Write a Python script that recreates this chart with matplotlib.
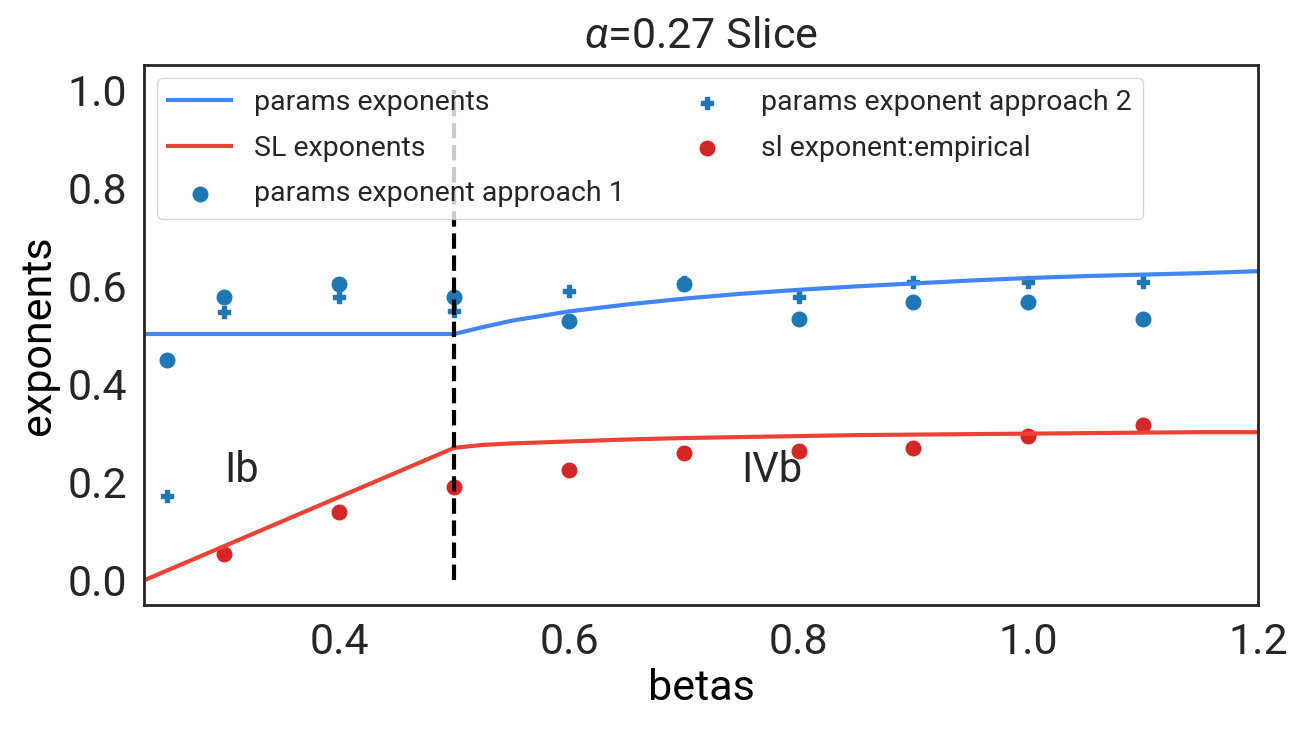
import numpy as np
import matplotlib
matplotlib.use('Agg')
import matplotlib.pyplot as plt

plt.rcParams['font.family'] = ['Roboto', 'DejaVu Sans']
plt.rcParams['mathtext.fontset'] = 'custom'
plt.rcParams['mathtext.it'] = 'Roboto:italic'
plt.rcParams['mathtext.rm'] = 'Roboto'
plt.rcParams['text.color'] = '#262626'

# theory curves
beta_line = [0.2, 0.25, 0.3, 0.35, 0.4, 0.45, 0.5, 0.525, 0.55, 0.6, 0.65, 0.7,
             0.75, 0.8, 0.85, 0.9, 0.95, 1.0, 1.05, 1.1, 1.15, 1.2]
params_line = [0.502, 0.502, 0.502, 0.502, 0.502, 0.502, 0.502, 0.516, 0.529,
               0.548, 0.562, 0.574, 0.584, 0.592, 0.599, 0.605, 0.611, 0.616,
               0.620, 0.623, 0.626, 0.630]
sl_line = [-0.03, 0.02, 0.07, 0.12, 0.17, 0.22, 0.27, 0.276, 0.279, 0.283,
           0.287, 0.290, 0.292, 0.294, 0.296, 0.297, 0.298, 0.299, 0.300,
           0.301, 0.302, 0.302]

# empirical points
betas = [0.25, 0.3, 0.4, 0.5, 0.6, 0.7, 0.8, 0.9, 1.0, 1.1]
approach1 = [0.448, 0.578, 0.604, 0.578, 0.529, 0.604, 0.532, 0.568, 0.568, 0.532]
approach2 = [0.171, 0.547, 0.578, 0.549, 0.590, 0.607, 0.578, 0.608, 0.608, 0.608]
betas_sl = [0.3, 0.4, 0.5, 0.6, 0.7, 0.8, 0.9, 1.0, 1.1]
sl_emp = [0.053, 0.140, 0.190, 0.224, 0.260, 0.264, 0.270, 0.295, 0.317]

fig = plt.figure(figsize=(13, 7.35), dpi=100)
ax = fig.add_axes([0.1108, 0.177, 0.8569, 0.7345])

ax.plot(beta_line, params_line, color='#4285f4', lw=3, label='params exponents')
ax.plot(beta_line, sl_line, color='#ea4335', lw=3, label='SL exponents')
ax.scatter(betas, approach1, color='#1f77b4', s=110, label='params exponent approach 1')
ax.scatter(betas, approach2, color='#1f77b4', marker='P', s=70,
           label='params exponent approach 2')
ax.scatter(betas_sl, sl_emp, color='#d62728', s=110, label='sl exponent:empirical')
ax.vlines(0.5, 0, 1, colors='k', linestyles='--', lw=3)

ax.text(0.3, 0.2, 'Ib', fontsize=30)
ax.text(0.75, 0.2, 'IVb', fontsize=30)

ax.set_xlim(0.23, 1.2)
ax.set_ylim(-0.05, 1.05)
ax.set_xticks([0.4, 0.6, 0.8, 1.0, 1.2])
ax.set_yticks([0.0, 0.2, 0.4, 0.6, 0.8, 1.0])
ax.tick_params(length=0, labelsize=31, pad=12, colors='#262626')
for s in ax.spines.values():
    s.set_color('#262626')
    s.set_linewidth(2)
ax.set_xlabel('betas', fontsize=31, labelpad=4)
ax.set_ylabel('exponents', fontsize=31, labelpad=6)
ax.set_title(r'$\alpha$=0.27 Slice', fontsize=31, pad=12)

ax.legend(loc='upper left', ncol=2, fontsize=20.5, frameon=True,
          labelspacing=0.65, columnspacing=1.8, handlelength=2.2,
          borderaxespad=0.45)

fig.savefig('out.png', dpi=100)
